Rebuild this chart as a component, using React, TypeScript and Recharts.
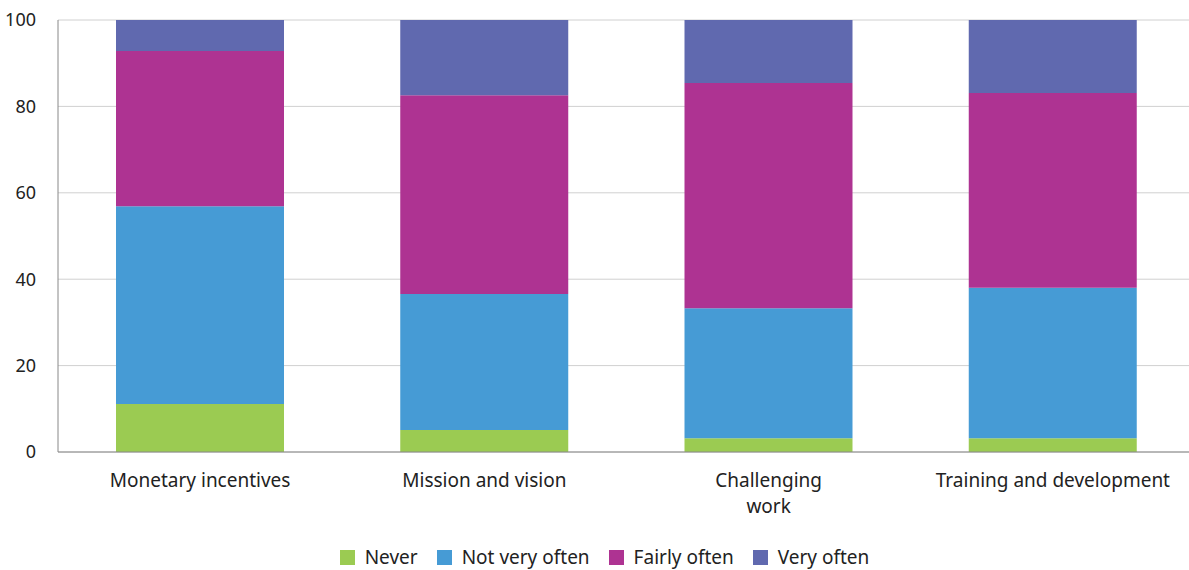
import React from 'react';
import { BarChart, Bar, XAxis, YAxis, CartesianGrid, Legend } from 'recharts';

const categories = ['Monetary incentives', 'Mission and vision', 'Challenging\nwork', 'Training and development'];
const never = [11.1, 5.1, 3.2, 3.2];
const notVeryOften = [45.8, 31.5, 30.1, 34.8];
const fairlyOften = [35.9, 46.0, 52.1, 45.1];
const veryOften = [7.2, 17.4, 14.6, 16.9];
const yTicks = [0, 20, 40, 60, 80, 100];

const data = categories.map((name, i) => ({
    name,
    never: never[i],
    notVeryOften: notVeryOften[i],
    fairlyOften: fairlyOften[i],
    veryOften: veryOften[i],
}));

const series = [
    { key: 'never', name: 'Never', color: '#9BCB52' },
    { key: 'notVeryOften', name: 'Not very often', color: '#469BD5' },
    { key: 'fairlyOften', name: 'Fairly often', color: '#AE3392' },
    { key: 'veryOften', name: 'Very often', color: '#6069AF' },
];

const font = '"Noto Sans", sans-serif';

// splits the category on \n so "Challenging work" sits on two lines like the original
const CategoryTick = (props: any) => {
    const { x, y, payload } = props;
    const lines = String(payload.value).split('\n');
    return (
        <g>
            {lines.map((line, i) => (
                <text key={i} x={x} y={y + 22 + i * 26} textAnchor="middle" dominantBaseline="middle"
                    fontSize={19} fill="#222" fontFamily={font}>
                    {line}
                </text>
            ))}
        </g>
    );
};

// legend in series order (recharts sorts by name otherwise)
const LegendContent = () => (
    <div style={{ display: 'flex', justifyContent: 'center', alignItems: 'center', fontFamily: font, fontSize: 19, color: '#222', paddingLeft: 14 }}>
        {series.map((s, i) => (
            <div key={s.key} style={{ display: 'flex', alignItems: 'center', marginRight: i < series.length - 1 ? 19 : 0 }}>
                <div style={{ width: 15, height: 15, background: s.color, marginRight: 10 }} />
                <span>{s.name}</span>
            </div>
        ))}
    </div>
);

const App = () => {
    return (
        <div style={{ position: 'absolute', left: 0, top: 0, width: 1189, height: 570, background: '#fff' }}>
            <BarChart
                width={1189}
                height={570}
                data={data}
                margin={{ top: 20, right: -6, left: 0, bottom: 0 }}
                barSize={168}
            >
                <CartesianGrid vertical={false} stroke="#d0d0d0" />
                <XAxis
                    dataKey="name"
                    height={70}
                    tickLine={false}
                    stroke="#888"
                    interval={0}
                    tick={<CategoryTick />}
                />
                <YAxis
                    width={58}
                    domain={[0, 100]}
                    ticks={yTicks}
                    tickLine={false}
                    stroke="#888"
                    tickMargin={16}
                    tick={{ fontSize: 18, fill: '#222', fontFamily: font }}
                />
                <Legend
                    verticalAlign="bottom"
                    content={<LegendContent />}
                    wrapperStyle={{ height: 48, paddingTop: 22, boxSizing: 'border-box' }}
                />
                {series.map((s) => (
                    <Bar key={s.key} dataKey={s.key} stackId="a" name={s.name} fill={s.color} isAnimationActive={false} />
                ))}
            </BarChart>
        </div>
    );
};

export default App;
